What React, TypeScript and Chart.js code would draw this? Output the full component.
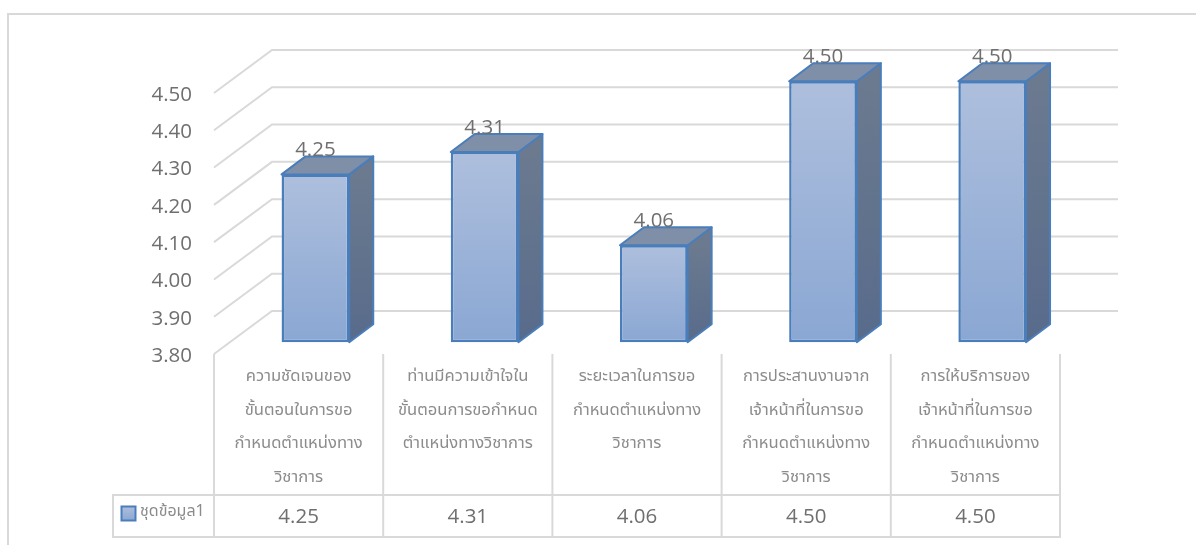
import React, { useEffect, useRef } from "react";
import { Chart, registerables } from "chart.js";

Chart.register(...registerables);

const seriesName = "ชุดข้อมูล1";
const categories: string[][] = [
  ["ความชัดเจนของ", "ขั้นตอนในการขอ", "กำหนดตำแหน่งทาง", "วิชาการ"],
  ["ท่านมีความเข้าใจใน", "ขั้นตอนการขอกำหนด", "ตำแหน่งทางวิชาการ"],
  ["ระยะเวลาในการขอ", "กำหนดตำแหน่งทาง", "วิชาการ"],
  ["การประสานงานจาก", "เจ้าหน้าที่ในการขอ", "กำหนดตำแหน่งทาง", "วิชาการ"],
  ["การให้บริการของ", "เจ้าหน้าที่ในการขอ", "กำหนดตำแหน่งทาง", "วิชาการ"],
];
const values = [4.25, 4.31, 4.06, 4.5, 4.5];
const axisMin = 3.8;
const axisMax = 4.5;
const axisStep = 0.1;

const LATIN = '"Open Sans", sans-serif';
const THAI = '"Noto Sans Thai", "Noto Sans", "Open Sans", "DejaVu Sans", sans-serif';
const GRID = "#d9d9d9";
const TEXT = "#6f6f6f";
const EDGE = "#4a7ebb";

const wallDx = 58;
const wallDy = -43;
const barDx = 16.8;
const barDy = -11.8;
const faceDx = 24;
const faceDy = -18;

const threeD = {
  id: "threeD",
  beforeDatasetsDraw(chart: any) {
    const { ctx, chartArea } = chart;
    const yS = chart.scales.y;
    const xS = chart.scales.x;
    const L = chartArea.left;
    const R = chartArea.right;
    const B = chartArea.bottom;
    ctx.save();
    // frame of the chart object
    ctx.strokeStyle = GRID;
    ctx.lineWidth = 2;
    ctx.beginPath();
    ctx.moveTo(8, 545);
    ctx.lineTo(8, 14);
    ctx.lineTo(1196, 14);
    ctx.stroke();
    // walls
    yS.ticks.forEach((t: any) => {
      const y = yS.getPixelForValue(t.value);
      ctx.beginPath();
      ctx.moveTo(L, y);
      ctx.lineTo(L + wallDx, y + wallDy);
      ctx.lineTo(R + wallDx, y + wallDy);
      ctx.stroke();
    });
    // data table
    const band = (R - L) / categories.length;
    for (let i = 0; i <= categories.length; i++) {
      const x = L + band * i;
      ctx.beginPath();
      ctx.moveTo(x, B);
      ctx.lineTo(x, 537);
      ctx.stroke();
    }
    ctx.strokeRect(113, 495, R - 113, 42);
    // value row
    ctx.fillStyle = TEXT;
    ctx.font = "20.5px " + LATIN;
    ctx.textAlign = "center";
    ctx.textBaseline = "middle";
    values.forEach((v, i) => {
      ctx.fillText(v.toFixed(2), xS.getPixelForValue(i), 517);
    });
    // legend key
    const g = ctx.createLinearGradient(0, 506, 0, 521);
    g.addColorStop(0, "#aebfdd");
    g.addColorStop(1, "#8aa7d3");
    ctx.fillStyle = g;
    ctx.fillRect(121.5, 506.5, 14, 14);
    ctx.strokeStyle = EDGE;
    ctx.lineWidth = 2;
    ctx.strokeRect(121.5, 506.5, 14, 14);
    ctx.fillStyle = "#8c8c8c";
    ctx.font = "16px " + THAI;
    ctx.textAlign = "left";
    ctx.fillText(chart.data.datasets[0].label, 140, 513);
    ctx.restore();

    // bars sit part way into the floor
    ctx.save();
    ctx.translate(barDx, barDy);
    const meta = chart.getDatasetMeta(0);
    meta.data.forEach((bar: any) => {
      const { x, y, base, width } = bar.getProps(["x", "y", "base", "width"], true);
      const l = x - width / 2;
      const r = x + width / 2;
      const side = ctx.createLinearGradient(0, y, 0, base);
      side.addColorStop(0, "#6b7a8f");
      side.addColorStop(1, "#586b8b");
      ctx.strokeStyle = EDGE;
      ctx.lineWidth = 2;
      ctx.lineJoin = "round";
      ctx.fillStyle = side;
      ctx.beginPath();
      ctx.moveTo(r, y);
      ctx.lineTo(r + faceDx, y + faceDy);
      ctx.lineTo(r + faceDx, base + faceDy);
      ctx.lineTo(r, base);
      ctx.closePath();
      ctx.fill();
      ctx.stroke();
      ctx.fillStyle = "#7f8fa7";
      ctx.beginPath();
      ctx.moveTo(l, y);
      ctx.lineTo(l + faceDx, y + faceDy);
      ctx.lineTo(r + faceDx, y + faceDy);
      ctx.lineTo(r, y);
      ctx.closePath();
      ctx.fill();
      ctx.stroke();
    });
  },
  afterDatasetsDraw(chart: any) {
    const { ctx } = chart;
    const meta = chart.getDatasetMeta(0);
    ctx.fillStyle = TEXT;
    ctx.font = "20.5px " + LATIN;
    ctx.textAlign = "center";
    ctx.textBaseline = "middle";
    meta.data.forEach((bar: any, i: number) => {
      const { x, y } = bar.getProps(["x", "y"], true);
      ctx.fillText(chart.data.datasets[0].data[i].toFixed(2), x, y - 24);
    });
    ctx.restore();
  },
};

export default function App() {
  const ref = useRef<HTMLCanvasElement>(null);
  useEffect(() => {
    const chart = new Chart(ref.current as HTMLCanvasElement, {
      type: "bar",
      data: {
        labels: categories as any,
        datasets: [
          {
            label: seriesName,
            data: values,
            base: axisMin,
            clip: false as any,
            categoryPercentage: 1,
            barPercentage: 0.4,
            borderColor: EDGE,
            borderWidth: 2.5,
            borderSkipped: false,
            backgroundColor: (c: any) => {
              const yS = c.chart.scales.y;
              const v = c.dataset.data[c.dataIndex];
              const top = yS ? yS.getPixelForValue(v) : NaN;
              const bottom = yS ? yS.getPixelForValue(axisMin) : NaN;
              if (!Number.isFinite(top) || !Number.isFinite(bottom)) return "#9cb3d8";
              const g = c.chart.ctx.createLinearGradient(0, top, 0, bottom);
              g.addColorStop(0, "#aebfdd");
              g.addColorStop(1, "#8aa7d3");
              return g;
            },
          } as any,
        ],
      },
      options: {
        animation: false,
        responsive: false,
        devicePixelRatio: 1,
        layout: { padding: { top: 93, right: 136, left: 0, bottom: 0 } },
        plugins: { legend: { display: false }, tooltip: { enabled: false } },
        scales: {
          x: {
            grid: { display: false, drawTicks: false },
            border: { display: false },
            afterFit: (s: any) => {
              s.height = 191;
            },
            ticks: {
              autoSkip: false,
              maxRotation: 0,
              minRotation: 0,
              padding: 7,
              color: "#8c8c8c",
              font: { family: THAI, size: 16.6, lineHeight: "33.5px" as any },
            },
          },
          y: {
            min: axisMin,
            max: axisMax,
            grid: { display: false, drawTicks: false },
            border: { display: false },
            afterFit: (s: any) => {
              s.width = 214;
            },
            ticks: {
              stepSize: axisStep,
              padding: 22,
              labelOffset: 2,
              color: TEXT,
              font: { family: LATIN, size: 20.5 },
              callback: (v: any) => Number(v).toFixed(2),
            },
          },
        },
      },
      plugins: [threeD as any],
    });
    return () => chart.destroy();
  }, []);
  return (
    <div style={{ position: "fixed", left: 0, top: 0, width: 1196, height: 545, background: "#fff" }}>
      <canvas ref={ref} width={1196} height={545} style={{ display: "block" }} />
    </div>
  );
}
